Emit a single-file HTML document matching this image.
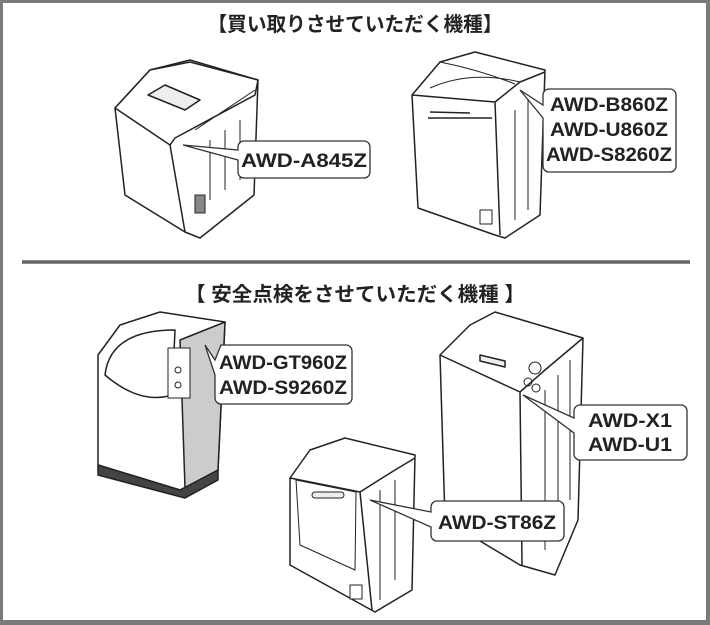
<!DOCTYPE html>
<html><head><meta charset="utf-8"><style>
html,body{margin:0;padding:0;background:#fff}
svg{display:block}
text{font-family:"Liberation Sans","Noto Sans CJK JP",sans-serif;font-weight:bold;fill:#222}
</style></head><body>
<svg width="710" height="625" viewBox="0 0 710 625" xmlns="http://www.w3.org/2000/svg">
<rect x="0" y="0" width="710" height="625" fill="#7a7a7a"/>
<rect x="3" y="3" width="703" height="617" fill="#fff"/>
<text x="355" y="31" font-size="20" text-anchor="middle" textLength="295" lengthAdjust="spacingAndGlyphs">【買い取りさせていただく機種】</text>
<line x1="22" y1="262" x2="690" y2="262" stroke="#666" stroke-width="3.5"/>
<text x="355" y="301" font-size="20" text-anchor="middle" textLength="340" lengthAdjust="spacingAndGlyphs">【 安全点検をさせていただく機種 】</text>

<g fill="#fff" stroke="#222" stroke-width="1.5" stroke-linejoin="round">
<!-- washer 1 -->
<polygon points="115,108 150,70 190,60 258,80 254,195 200,238 185,232 125,195"/>
<polygon points="115,108 170,145 175,138 255,95 258,80 190,62 150,70" />
<line x1="170" y1="145" x2="185" y2="232"/>
<polygon points="148,95 165,85 200,100 185,110" fill="#eee"/>
<path d="M195,130 l60,-40 M210,140 v60 M225,130 v60 M240,120 v60" fill="none" stroke-width="1"/>
<rect x="195" y="195" width="10" height="18" fill="#888" stroke-width="1"/>
<!-- washer 2 -->
<polygon points="412,95 440,62 475,52 545,70 540,215 505,238 495,235 418,208"/>
<path d="M412,95 L495,102 L520,82 L545,72 M495,102 L500,235" fill="none"/>
<path d="M428,118 L492,118 M430,112 L470,113" fill="none"/>
<path d="M440,62 Q480,70 515,84 M430,88 Q470,70 520,82" fill="none" stroke-width="1"/>
<path d="M515,110 v110 M528,100 v110" fill="none" stroke-width="1"/>
<rect x="480" y="210" width="12" height="14" stroke-width="1"/>
<!-- washer 3 -->
<polygon points="98,355 120,325 160,312 225,322 218,470 190,485 180,490 98,465" fill="#fff"/>
<polygon points="180,340 225,322 218,470 185,488" fill="#ccc"/>
<path d="M105,375 Q110,330 175,330 L172,395 Q140,405 105,375 Z" fill="#fff"/>
<rect x="168" y="348" width="22" height="50" fill="#fff" stroke-width="1"/>
<circle cx="178" cy="370" r="3" fill="none" stroke-width="1"/>
<circle cx="178" cy="385" r="3" fill="none" stroke-width="1"/>
<polygon points="98,465 180,490 218,470 218,480 185,498 98,475" fill="#444"/>
<!-- washer 4 -->
<polygon points="440,355 470,325 495,312 583,338 578,520 555,575 520,565 445,520"/>
<path d="M440,355 L520,392 L545,370 L583,338 M520,392 L522,565" fill="none"/>
<path d="M480,355 l25,6 v6 l-25,-6z" fill="#eee"/>
<circle cx="535" cy="368" r="6" fill="none" stroke-width="1"/>
<circle cx="528" cy="382" r="4" fill="none" stroke-width="1"/>
<circle cx="536" cy="388" r="4" fill="none" stroke-width="1"/>
<path d="M545,390 v160 M558,375 v150 M570,360 v140" fill="none" stroke-width="1"/>
<!-- washer 5 -->
<polygon points="290,478 310,450 345,438 415,455 412,590 375,612 290,565"/>
<path d="M290,478 L360,492 L395,470 L415,458 M360,492 L372,610" fill="none"/>
<polygon points="296,480 356,492 355,570 300,545" fill="none" stroke-width="1"/>
<rect x="312" y="492" width="32" height="6" rx="3" fill="#eee" stroke-width="1"/>
<path d="M380,490 v110 M395,480 v100" fill="none" stroke-width="1"/>
<rect x="350" y="585" width="12" height="14" stroke-width="1"/>
</g>

<g fill="#fff" stroke="#333" stroke-width="1.3">
<path d="M244,141 H364 a6,6 0 0 1 6,6 V172 a6,6 0 0 1 -6,6 H244 a6,6 0 0 1 -6,-6 V160 L183,145 L238,150 V147 a6,6 0 0 1 6,-6Z"/>
<path d="M549,89 H670 a6,6 0 0 1 6,6 V166 a6,6 0 0 1 -6,6 H549 a6,6 0 0 1 -6,-6 V118 L520,90 L543,105 V95 a6,6 0 0 1 6,-6Z"/>
<path d="M221,345 H346 a6,6 0 0 1 6,6 V398 a6,6 0 0 1 -6,6 H221 a6,6 0 0 1 -6,-6 V375 L205,345 L215,360 Z"/>
<path d="M580,405 H681 a6,6 0 0 1 6,6 V454 a6,6 0 0 1 -6,6 H580 a6,6 0 0 1 -6,-6 V433 L523,395 L574,418 V411 a6,6 0 0 1 6,-6Z"/>
<path d="M437,501 H558 a6,6 0 0 1 6,6 V535 a6,6 0 0 1 -6,6 H437 a6,6 0 0 1 -6,-6 V527 L370,500 L431,512 V507 a6,6 0 0 1 6,-6Z"/>
</g>
<g font-size="19">
<text x="304" y="167" text-anchor="middle" textLength="126" lengthAdjust="spacingAndGlyphs">AWD-A845Z</text>
<text x="609" y="111" text-anchor="middle" textLength="118" lengthAdjust="spacingAndGlyphs">AWD-B860Z</text>
<text x="609" y="136" text-anchor="middle" textLength="118" lengthAdjust="spacingAndGlyphs">AWD-U860Z</text>
<text x="609" y="161" text-anchor="middle" textLength="126" lengthAdjust="spacingAndGlyphs">AWD-S8260Z</text>
<text x="283" y="369" text-anchor="middle" textLength="128" lengthAdjust="spacingAndGlyphs">AWD-GT960Z</text>
<text x="283" y="394" text-anchor="middle" textLength="128" lengthAdjust="spacingAndGlyphs">AWD-S9260Z</text>
<text x="630" y="427" text-anchor="middle" textLength="84" lengthAdjust="spacingAndGlyphs">AWD-X1</text>
<text x="630" y="451" text-anchor="middle" textLength="84" lengthAdjust="spacingAndGlyphs">AWD-U1</text>
<text x="497" y="529" text-anchor="middle" textLength="118" lengthAdjust="spacingAndGlyphs">AWD-ST86Z</text>
</g>
</svg>
</body></html>
